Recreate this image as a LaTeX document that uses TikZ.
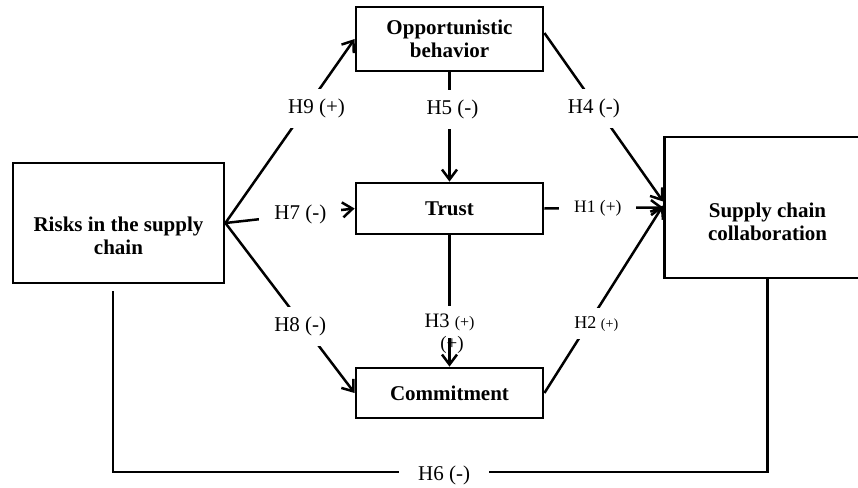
\documentclass[tikz,border=0pt]{standalone}
\usepackage{fontspec}
\setmainfont{Liberation Serif}
\usetikzlibrary{arrows.meta,calc}

\begin{document}
\begin{tikzpicture}[x=1pt,y=-1pt,
		box/.style={draw,line width=2.8pt,inner sep=0pt},
		title/.style={font=\fontsize{21}{23}\selectfont\bfseries,align=center},
		link/.style={line width=2.5pt},
		arr/.style={link,-{Straight Barb[length=10pt,width=15pt]}},
		hyp/.style={fill=white,inner xsep=15pt,inner ysep=10pt,font=\fontsize{21}{23}\selectfont}]
		\useasboundingbox (0,0) rectangle (858,487);
		% constructs
		\node[box,minimum width=211pt,minimum height=120pt] (risk) at (118.5,223) {};
		\node[title] (risktxt) at ([yshift=-13pt]risk.center) {Risks in the supply\\chain};
		\node[box,title,minimum width=187pt,minimum height=64pt] (opp) at (449.5,39) {Opportunistic\\behavior};
		\node[box,title,minimum width=187pt,minimum height=51pt] (trust) at (449.5,208.5) {Trust};
		\node[box,title,minimum width=187pt,minimum height=50pt] (commit) at (449.5,393) {Commitment};
		\node[box,minimum width=206pt,minimum height=141pt] (scc) at (767.5,207.5) {};
		\node[title] (scctxt) at ([yshift=-14pt]scc.center) {Supply chain\\collaboration};
		% hypotheses
		\draw[arr] (risk.east) -- node[hyp,pos=0.62,xshift=11pt]{H9 (+)} (opp.west);
		\draw[arr] (risk.east) -- node[hyp,pos=0.58]{H7 (-)} (trust.west);
		\draw[arr] (risk.east) -- node[hyp,pos=0.61,xshift=-4pt]{H8 (-)} (commit.west);
		\draw[arr] (opp.south) -- node[hyp,pos=0.34,xshift=3pt]{H5 (-)} (trust.north);
		\draw[arr] ([yshift=6pt]opp.east) -- node[hyp,pos=0.45,xshift=-4pt]{H4 (-)} ([yshift=6pt]scc.west);
		\draw[arr] (trust.east) -- node[hyp,pos=0.45,font=\fontsize{17.5}{20}\selectfont]{H1 (+)} (scc.west);
		\draw[arr] (commit.east) -- node[hyp,pos=0.37,xshift=8pt,inner ysep=8pt,font=\fontsize{18}{20}\selectfont]{H2 {\fontsize{14}{16}\selectfont(+)}} ([yshift=2pt]scc.west);
		\draw[arr] (trust.south) -- node[hyp,pos=0.66,inner ysep=8pt,font=\fontsize{20.5}{22}\selectfont]{H3 {\fontsize{16}{18}\selectfont(+)}} (commit.north);
		\node[font=\fontsize{19}{21}\selectfont] (hthree) at (452,345) {(+)};
		\coordinate (base) at (0,472);
		\draw[link] ([xshift=-5.5pt,yshift=-7pt]risk.south) |- node[hyp,pos=0.753,inner xsep=19pt,yshift=-3pt]{H6 (-)} (scc.south |- base) -- (scc.south);
	\end{tikzpicture}
\end{document}
